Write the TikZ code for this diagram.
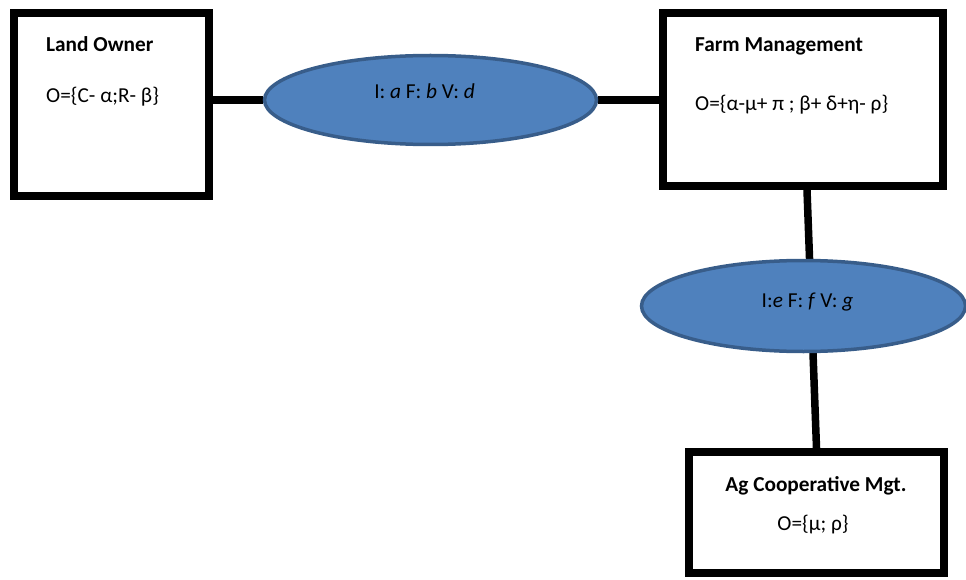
\documentclass[tikz,border=0pt]{standalone}
\usepackage{fontspec}
\setmainfont{Carlito}
\usepackage{xcolor}
\usepackage{tikz}
\usetikzlibrary{shapes.geometric,backgrounds}
\definecolor{ovalfill}{HTML}{4F81BD}
\definecolor{ovaledge}{HTML}{385D8A}

\begin{document}
\begin{tikzpicture}[x=1pt,y=-1pt,font=\fontsize{21.3}{25}\selectfont,
 party/.style={draw,line width=8pt,fill=white,inner sep=0pt},
 oval/.style={ellipse,draw=ovaledge,line width=3.5pt,fill=ovalfill,inner sep=0pt},
 link/.style={line width=7.5pt},
 head/.style={font=\fontsize{21.3}{25}\selectfont\bfseries,inner sep=0pt},
 formula/.style={inner sep=0pt}]
\useasboundingbox (0,0) rectangle (966,580);
% parties
\node[party,minimum width=195.5pt,minimum height=183pt] (lo) at (111.25,104.5) {};
\node[party,minimum width=280pt,minimum height=173pt] (fm) at (802.5,99.5) {};
\node[party,minimum width=255pt,minimum height=121pt] (co) at (816.5,512.5) {};
\node[head,anchor=base west] (loT) at (46,52) {Land Owner};
\node[formula,anchor=base west] (loO) at (46,103) {O=\{C- α;R- β\}};
\node[head,anchor=base west] (fmT) at (695,52) {Farm Management};
\node[formula,anchor=base west] (fmO) at (695,111) {O=\{α-μ+ π ; β+ δ+η- ρ\}};
\node[head,anchor=base] (coT) at (816,491) {Ag Cooperative Mgt.};
\node[formula,anchor=base] (coO) at (813,530) {O=\{μ; ρ\}};
% contracts
\node[oval,minimum width=332pt,minimum height=89pt] (e1) at (430.5,100) {};
\node[oval,minimum width=324pt,minimum height=91pt] (e2) at (803.5,306) {};
\node[formula,anchor=base] (e1T) at (424.5,99) {I: \textit{a} F: \textit{b} V: \textit{d}};
\node[formula,anchor=base] (e2T) at (807.5,307) {I:\textit{e} F: \textit{f} V: \textit{g}};
\begin{scope}[on background layer]
\draw[link] (lo.east |- e1.west) -- (e1.west);
\draw[link] (e1.east) -- (fm.west |- e1.east);
\draw[link] ([xshift=4.5pt]fm.south) -- (co.north);
\end{scope}
\end{tikzpicture}
\end{document}
